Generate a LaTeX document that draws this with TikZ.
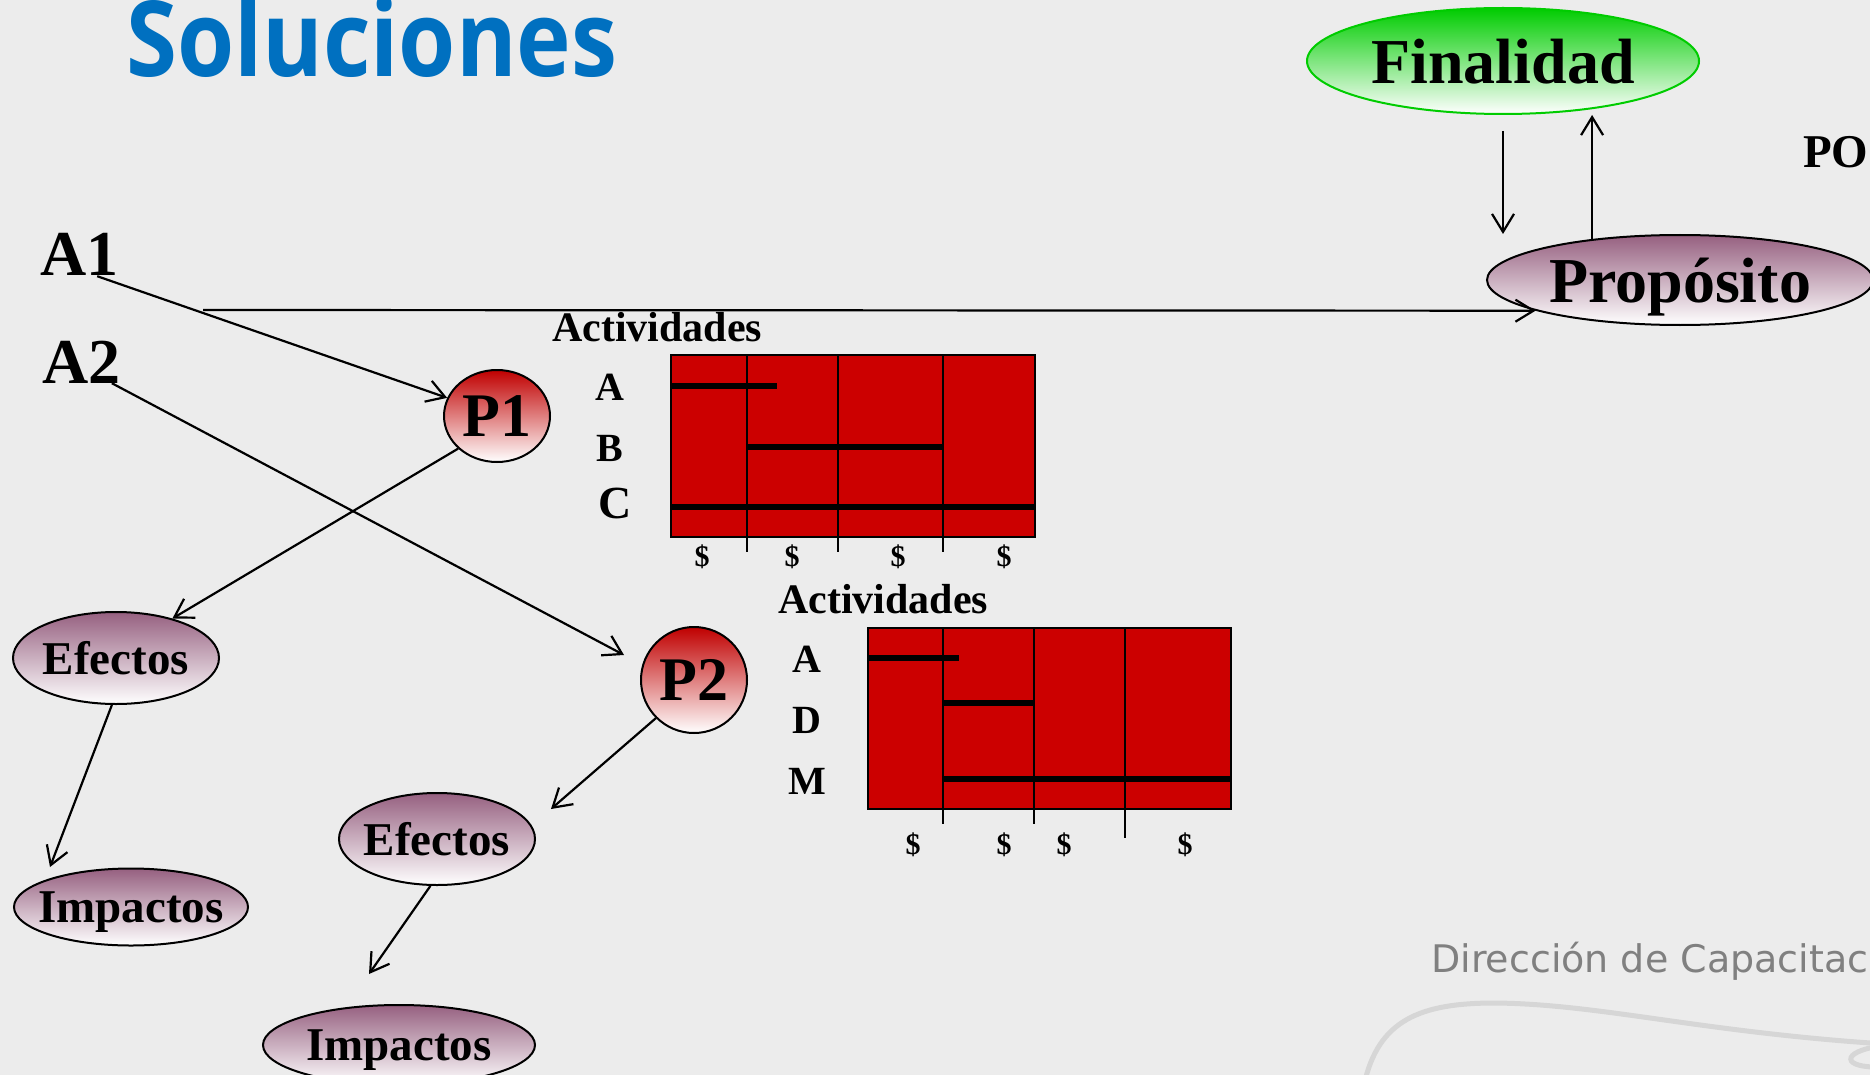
\documentclass[tikz,border=0pt]{standalone}
\usepackage{fontspec}
\setmainfont{Liberation Serif}
\newfontfamily\titlefont[FakeStretch=0.88]{Open Sans}
\newfontfamily\footfont{DejaVu Sans}
\usetikzlibrary{shapes.geometric,arrows.meta}
\definecolor{fondo}{RGB}{236,236,236}
\definecolor{azul}{RGB}{0,112,192}
\definecolor{gantt}{RGB}{204,0,0}
\definecolor{rojo}{RGB}{192,0,0}
\definecolor{lila}{RGB}{150,96,128}
\definecolor{verdeclaro}{RGB}{0,204,0}
\definecolor{curva}{RGB}{214,214,214}
\definecolor{gris}{RGB}{128,128,128}
\tikzset{
  oval/.style={ellipse,draw,line width=2pt,inner xsep=-12pt,inner ysep=0pt,text depth=0pt},
  nodolila/.style={oval,top color=lila,bottom color=white},
  nodorojo/.style={oval,top color=rojo,bottom color=white},
  nodoverde/.style={oval,draw=verdeclaro,top color=verdeclaro,bottom color=white},
  texto/.style={inner sep=0pt},
  grande/.style={font=\bfseries\fontsize{64}{70}\selectfont},
  media/.style={font=\bfseries\fontsize{47}{52}\selectfont},
  fila/.style={texto,font=\bfseries\fontsize{40}{44}\selectfont},
  peso/.style={texto,font=\bfseries\fontsize{30}{34}\selectfont},
  flecha/.style={-{Straight Barb[length=18pt,width=22pt]},line width=2.2pt},
  barra/.style={line width=6pt},
}
\begin{document}
\begin{tikzpicture}[x=1pt,y=-1pt]
      \useasboundingbox (0,0) rectangle (1870,1075);
      \clip (0,0) rectangle (1870,1075);
      \fill[fondo] (0,0) rectangle (1870,1075);
      \draw[curva,line width=5pt] (1364,1085) .. controls (1378,1020) and (1420,1003) .. (1495,1003)
        .. controls (1600,1004) and (1700,1032) .. (1885,1044);
      \draw[curva,line width=5pt] (1880,1046) .. controls (1840,1052) and (1842,1068) .. (1880,1067);
      \draw
        (126,77) node[anchor=base west,texto,text=azul,font=\titlefont\bfseries\fontsize{105}{110}\selectfont] (titulo){Soluciones}
        (1431,972) node[anchor=base west,texto,text=gris,font=\footfont\fontsize{38}{42}\selectfont] (pie){Dirección de Capacitac}
        (40,276) node[grande,texto,anchor=base west] (a1){A1}
        (42,383) node[grande,texto,anchor=base west] (a2){A2}
        (1803,168) node[media,texto,anchor=base west] (po){PO}
        (1503,61) node[nodoverde,grande,minimum width=392,minimum height=106] (fin){Finalidad}
        (1680,280) node[nodolila,grande,minimum width=386,minimum height=90] (prop){Propósito}
        (497,416) node[nodorojo,font=\bfseries\fontsize{62}{66}\selectfont,minimum width=106,minimum height=92] (p1){P1}
        (694,680) node[nodorojo,font=\bfseries\fontsize{62}{66}\selectfont,minimum width=106,minimum height=106] (p2){P2}
        (116,658) node[nodolila,media,minimum width=206,minimum height=92] (ef1){Efectos}
        (131,907) node[nodolila,media,minimum width=234,minimum height=77] (im1){Impactos}
        (437,839) node[nodolila,media,minimum width=196,minimum height=92] (ef2){Efectos}
        (399,1045) node[nodolila,media,minimum width=272,minimum height=80] (im2){Impactos};
      % actividades P1
      \fill[gantt] (671,355) rectangle (1035,537);
      \draw[line width=2pt] (671,355) rectangle (1035,537);
      \draw[line width=2pt] (747,355) -- (747,552) (838,355) -- (838,552) (943,355) -- (943,552);
      \draw[barra] (671,386) -- (777,386) (747,447) -- (943,447) (671,507) -- (1035,507);
      \draw
        (552,341) node[anchor=base west,texto,font=\bfseries\fontsize{42}{46}\selectfont] (act1){Actividades}
        (610,387) node[fila] (fa1){A}
        (610,448) node[fila] (fb1){B}
        (615,503) node[fila,font=\bfseries\fontsize{46}{50}\selectfont] (fc1){C}
        (702,557) node[peso] (d11){\$}
        (792,557) node[peso] (d12){\$}
        (898,557) node[peso] (d13){\$}
        (1004,557) node[peso] (d14){\$};
      % actividades P2
      \fill[gantt] (868,628) rectangle (1231,809);
      \draw[line width=2pt] (868,628) rectangle (1231,809);
      \draw[line width=2pt] (943,628) -- (943,824) (1034,628) -- (1034,824) (1125,628) -- (1125,838);
      \draw[barra] (868,658) -- (959,658) (943,703) -- (1034,703) (943,779) -- (1231,779);
      \draw
        (778,613) node[anchor=base west,texto,font=\bfseries\fontsize{42}{46}\selectfont] (act2){Actividades}
        (807,659) node[fila] (fa2){A}
        (807,720) node[fila] (fd2){D}
        (807,781) node[fila] (fm2){M}
        (913,845) node[peso] (d21){\$}
        (1004,845) node[peso] (d22){\$}
        (1064,845) node[peso] (d23){\$}
        (1185,845) node[peso] (d24){\$};
      \coordinate (linea) at (203,310);
      \coordinate (llegada2) at (624,655);
      \coordinate (fin1) at (50,867);
      \coordinate (fin2) at (551,809);
      \coordinate (fin3) at (369,974);
      \begin{scope}[flecha]
        \draw (a1.-50) to (p1.160);
        \draw (a2.-35) to (llegada2);
        \draw (p1.220) to (ef1.35);
        \draw (ef1.-95) to (fin1);
        \draw (p2.225) to (fin2);
        \draw (ef2.-98) to (fin3);
        \draw (linea) to (prop.192);
        \draw[shorten <=16pt] (fin.south) to (fin.south |- prop.north);
        \draw (prop.155) to (prop.155 |- fin.south);
      \end{scope}
    \end{tikzpicture}
\end{document}
